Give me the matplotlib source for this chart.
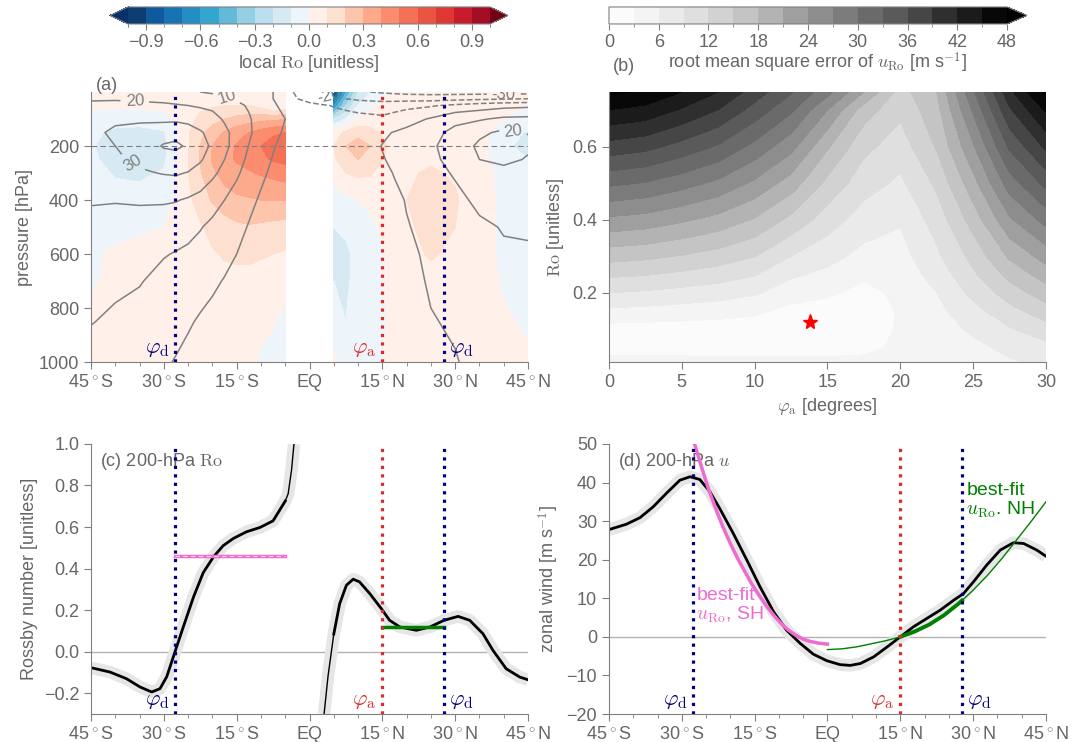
import numpy as np
import matplotlib.pyplot as plt
from matplotlib.colors import ListedColormap
from matplotlib.ticker import MultipleLocator

plt.rcParams['font.family'] = ['Liberation Sans', 'DejaVu Sans']
plt.rcParams['mathtext.fontset'] = 'cm'
plt.rcParams['font.size'] = 13

gray_txt = '0.4'
gray_ax = '0.5'
navy = '#000080'
red = '#dc2a2a'
pink = '#ef6bd0'
green = '#008000'

# latitudes of the Hadley cell edges
phi_d_sh = -27.7
phi_a = 15.0
phi_d_nh = 27.7

lat_labels = ['45$^\\circ$S', '30$^\\circ$S', '15$^\\circ$S', 'EQ',
              '15$^\\circ$N', '30$^\\circ$N', '45$^\\circ$N']

# ---- panel (a): local Ro and zonal wind, lat x pressure ----
p_levels = [0, 25, 50, 100, 150, 200, 250, 300, 400, 500, 600, 700, 850, 1000]

lat_ro_sh = [-45, -40, -35, -30, -27.5, -25, -22.5, -20, -17.5, -15, -12.5, -10, -7.5, -5]
ro_sh_cols = [
    [0.05, 0.04, 0.02, -0.05, -0.08, -0.09, -0.08, -0.06, -0.04, -0.02, -0.01, -0.01, 0.02, 0.03],
    [0.05, 0.04, 0.02, -0.06, -0.12, -0.15, -0.14, -0.11, -0.06, -0.02, 0.01, 0.02, 0.03, 0.03],
    [0.05, 0.04, 0.02, -0.06, -0.13, -0.16, -0.15, -0.12, -0.06, -0.01, 0.02, 0.03, 0.03, 0.04],
    [0.05, 0.04, 0.03, -0.04, -0.11, -0.13, -0.12, -0.09, -0.04, 0.00, 0.02, 0.03, 0.03, 0.04],
    [0.05, 0.05, 0.04, 0.01, 0.00, -0.02, 0.00, 0.01, 0.01, 0.02, 0.02, 0.03, 0.03, 0.04],
    [0.05, 0.05, 0.06, 0.07, 0.09, 0.09, 0.10, 0.10, 0.08, 0.06, 0.04, 0.04, 0.04, 0.05],
    [0.05, 0.06, 0.08, 0.12, 0.17, 0.20, 0.21, 0.19, 0.14, 0.09, 0.06, 0.05, 0.05, 0.05],
    [0.05, 0.07, 0.09, 0.16, 0.25, 0.30, 0.31, 0.28, 0.21, 0.13, 0.09, 0.06, 0.05, 0.05],
    [0.05, 0.07, 0.10, 0.20, 0.31, 0.36, 0.37, 0.34, 0.25, 0.16, 0.11, 0.07, 0.05, 0.05],
    [0.05, 0.07, 0.10, 0.23, 0.36, 0.41, 0.41, 0.37, 0.28, 0.18, 0.12, 0.07, 0.05, 0.04],
    [0.05, 0.07, 0.10, 0.25, 0.40, 0.45, 0.44, 0.39, 0.29, 0.19, 0.12, 0.07, 0.05, 0.03],
    [0.04, 0.06, 0.06, 0.27, 0.44, 0.50, 0.48, 0.41, 0.30, 0.18, 0.11, 0.06, 0.03, -0.02],
    [0.03, 0.04, -0.02, 0.28, 0.48, 0.55, 0.51, 0.43, 0.30, 0.17, 0.10, 0.05, 0.01, -0.04],
    [0.03, 0.04, 0.02, 0.29, 0.50, 0.58, 0.53, 0.45, 0.30, 0.16, 0.09, 0.04, -0.03, -0.05],
]

lat_ro_nh = [5, 7.5, 10, 12.5, 15, 17.5, 20, 25, 30, 35, 40, 45]
ro_nh_cols = [
    [-0.95, -0.80, -0.60, -0.20, 0.05, 0.10, 0.08, 0.03, -0.04, -0.10, -0.12, -0.10, -0.05, 0.02],
    [-0.50, -0.40, -0.30, -0.10, 0.12, 0.20, 0.17, 0.10, -0.02, -0.08, -0.12, -0.12, -0.10, -0.04],
    [-0.20, -0.15, -0.10, 0.02, 0.17, 0.24, 0.20, 0.12, 0.00, -0.05, -0.07, -0.06, -0.05, -0.03],
    [-0.10, -0.06, -0.02, 0.04, 0.14, 0.20, 0.16, 0.11, 0.02, -0.02, -0.04, -0.04, -0.03, -0.02],
    [-0.04, -0.01, 0.02, 0.05, 0.09, 0.12, 0.10, 0.07, 0.03, 0.01, -0.01, -0.01, -0.01, 0.00],
    [0.02, 0.03, 0.04, 0.05, 0.06, 0.07, 0.07, 0.06, 0.05, 0.04, 0.03, 0.03, 0.02, 0.02],
    [0.03, 0.04, 0.05, 0.06, 0.07, 0.07, 0.08, 0.09, 0.10, 0.09, 0.07, 0.05, 0.04, 0.03],
    [0.03, 0.04, 0.06, 0.07, 0.08, 0.08, 0.09, 0.11, 0.12, 0.12, 0.11, 0.07, 0.05, 0.04],
    [0.03, 0.04, 0.05, 0.06, 0.07, 0.07, 0.08, 0.09, 0.11, 0.10, 0.08, 0.06, 0.05, 0.04],
    [0.03, 0.04, 0.04, 0.05, 0.05, 0.04, 0.04, 0.04, 0.04, 0.04, 0.04, 0.04, 0.04, 0.04],
    [0.02, 0.02, 0.02, 0.00, -0.06, -0.08, -0.06, -0.03, -0.02, -0.02, -0.02, -0.01, 0.01, 0.02],
    [0.02, 0.01, 0.00, -0.03, -0.11, -0.13, -0.10, -0.05, -0.03, -0.03, -0.02, -0.02, -0.01, 0.01],
]

# colours of the 20 Ro bands
ro_colors = ['#0c3e73', '#0f5a9a', '#1873b4', '#238dc4', '#33a5cf', '#62bad8',
             '#95cfe3', '#badfed', '#d7eaf3', '#eef5fa', '#fff1ea', '#fde0cf',
             '#fdc5ac', '#fca98c', '#fb8c6e', '#f47155', '#eb5441', '#dd3834',
             '#c81c2c', '#a40e24']

lat_u = [-45, -40, -35, -30, -27.5, -25, -22.5, -20, -17.5, -15, -12.5, -10, -7.5, -5,
         -2.5, 0, 2.5, 5, 7.5, 10, 12.5, 15, 17.5, 20, 25, 30, 35, 40, 45]
u_cols = [
    [16, 19, 22, 26, 28, 27.8, 27, 25, 20.8, 17, 14.5, 12.5, 10.3, 7],
    [15, 19, 23, 28.5, 31.5, 30, 28.5, 26, 20.5, 16.5, 13.5, 11.5, 8.7, 5.5],
    [14, 18, 23, 28.5, 33.5, 34.7, 32, 28.8, 21, 16, 12.5, 10.5, 7, 4],
    [13, 17, 22, 28, 36, 40.8, 36, 30.5, 21, 15, 10.5, 7.5, 4, 1],
    [12, 16, 21, 28, 37.5, 41.4, 37, 31, 20.5, 14, 9.5, 6, 2.5, -0.5],
    [11, 15, 20, 27, 35, 38.9, 35, 29.5, 19, 12.5, 8.5, 5, 1, -2.5],
    [10, 14, 19, 25, 31, 34, 31, 26.5, 17, 10.5, 7, 3.5, -1, -4],
    [9, 13, 18, 23, 27, 28.3, 26, 22, 13.5, 8, 4.5, 1.5, -2.5, -5],
    [8, 11, 15, 19, 22, 22.3, 20, 17, 10, 5.5, 2.5, -0.5, -4, -5.5],
    [7, 9, 12, 15, 17, 16.2, 14, 11.5, 6, 2.5, 0, -2, -5, -6],
    [6, 7, 9, 11, 11.5, 9.8, 8, 6, 2, -0.5, -2.5, -4, -6, -6.5],
    [4, 4, 5, 6, 6, 4.6, 3, 1.5, -1, -3, -4.5, -5.5, -7, -7],
    [0, 0, 1.5, 2.5, 2, 0.6, -0.5, -1.5, -3.5, -5, -6, -6.5, -7.5, -7],
    [-6, -6, -3, 0, -1, -2.3, -3, -4, -5.5, -6.5, -7, -7, -7, -6],
    [-12, -10, -5, -2.5, -3.5, -4.8, -5.5, -6, -7, -7.5, -7.5, -7, -7, -5],
    [-18, -14, -7, -4, -5, -6.2, -7, -7, -7.5, -7.5, -7.5, -7, -6.5, -4],
    [-22, -16, -9, -5.5, -6, -7.1, -7.5, -7.5, -7.5, -7.5, -7, -6.5, -5.5, -3],
    [-25, -18, -10.5, -6.5, -6.5, -7.4, -7.5, -7.5, -7, -6.5, -6, -5, -3.5, -2],
    [-27, -20, -12, -6.5, -5.5, -6.6, -7, -7, -6.5, -6, -5.5, -4.5, -3, -2],
    [-29, -22, -13, -7.5, -4, -4.8, -5.5, -6, -6, -5.5, -5, -4.5, -3.5, -3],
    [-30, -23, -13.5, -8, -2.5, -2.4, -3.5, -4.5, -5, -5, -4.5, -4.5, -4, -4],
    [-31, -24, -14, -8.5, -1.5, 0.3, -0.5, -2.5, -4, -4.5, -4.5, -4.5, -4.5, -5],
    [-32, -24, -13.5, -6.5, 0.5, 2.4, 1.5, 0.5, -2, -3.5, -4, -4.5, -5, -5.5],
    [-33, -24, -12.5, -4, 2.5, 4.4, 3.5, 2, 0.5, -0.5, -2, -3, -4.5, -5.5],
    [-34, -24, -11, 1, 7, 8.6, 8, 6.5, 4, 2.5, 1.8, 1, -0.5, -3],
    [-34, -23, -8, 7.5, 12.5, 14.2, 13, 11, 7.5, 5, 3.5, 2.5, 1, -0.5],
    [-34, -22, -5, 9, 18, 21.8, 20, 17, 12, 8.5, 6.5, 5.5, 4, 2.5],
    [-34, -21, -3, 12, 22, 24.3, 21.5, 18, 12.5, 10.5, 9, 7.5, 6, 4],
    [-34, -20, -2, 12.5, 19.8, 20.9, 19.5, 17, 12.5, 10.5, 9.5, 8.5, 7, 5],
]
u_levels = [-30, -20, -10, 0, 10, 20, 30, 40]

# ---- panel (b): RMSE of u_Ro over (phi_a, Ro) ----
phi_a_grid = [0, 2.5, 5, 7.5, 10, 12.5, 15, 17.5, 20, 22.5, 25, 27.5, 30]
ro_grid = [0.01, 0.05, 0.1, 0.15, 0.2, 0.25, 0.3, 0.4, 0.5, 0.6, 0.7, 0.75]
rmse_cols = [
    [4.3, 1.6, 1.8, 5.4, 9.0, 12.6, 16.2, 23.4, 30.6, 37.8, 44.9, 48.6],
    [4.2, 1.6, 1.7, 5.1, 8.6, 12.2, 15.7, 22.8, 29.8, 36.9, 44.0, 47.5],
    [4.1, 1.5, 1.6, 4.7, 8.0, 11.4, 14.8, 21.5, 28.2, 34.9, 41.6, 45.0],
    [4.0, 1.5, 1.5, 4.3, 7.4, 10.5, 13.7, 20.0, 26.3, 32.6, 38.9, 42.0],
    [3.9, 1.5, 1.4, 3.6, 6.4, 9.2, 12.1, 17.7, 23.4, 29.1, 34.8, 37.6],
    [3.8, 1.6, 1.2, 2.2, 4.4, 6.5, 9.0, 14.2, 19.6, 25.0, 30.5, 33.3],
    [3.7, 1.8, 1.0, 1.7, 3.5, 5.3, 7.0, 10.5, 14.2, 18.4, 24.0, 28.0],
    [3.8, 2.2, 1.2, 1.4, 2.2, 3.5, 5.1, 7.6, 10.3, 12.8, 16.5, 21.0],
    [4.5, 3.6, 3.4, 3.3, 3.6, 4.2, 4.9, 6.3, 8.4, 10.5, 12.7, 13.8],
    [4.0, 4.2, 4.6, 5.2, 6.0, 7.2, 8.4, 10.3, 12.6, 15.3, 17.0, 18.0],
    [4.8, 5.3, 6.5, 8.0, 9.8, 11.5, 13.0, 16.3, 19.9, 23.6, 27.4, 29.5],
    [5.7, 6.7, 8.7, 11.0, 13.5, 16.0, 18.5, 23.5, 28.5, 33.5, 38.5, 41.2],
    [6.5, 8.0, 10.8, 13.7, 16.6, 19.4, 22.3, 28.1, 33.9, 39.6, 45.4, 49.0],
]
best_phi_a = 13.8
best_ro = 0.12

# ---- panel (c): 200-hPa Rossby number ----
lat_c_sh = [-45, -41.1, -37.7, -34.9, -32.5, -30.8, -29.4, -27.7, -26, -23.9, -21.9,
            -19.8, -17.8, -15.7, -13, -10.2, -7.5, -5.0, -4.4, -3.7, -3.2]
ro_c_sh = [-0.077, -0.098, -0.13, -0.17, -0.194, -0.178, -0.12, 0.0, 0.119, 0.263, 0.38,
           0.456, 0.51, 0.545, 0.577, 0.598, 0.63, 0.725, 0.76, 0.875, 1.0]
lat_c_nh = [3.0, 3.8, 5.0, 6.2, 7.6, 9.0, 10.3, 12.4, 14.8, 16.5, 18.6, 22.0, 24.8,
            27.7, 30.6, 33.0, 35.7, 37.8, 40.5, 43.3, 45]
ro_c_nh = [-0.3, -0.12, 0.085, 0.23, 0.32, 0.349, 0.336, 0.28, 0.207, 0.151, 0.119,
           0.103, 0.119, 0.151, 0.17, 0.151, 0.087, 0.006, -0.082, -0.122, -0.135]
ro_fit_sh = 0.46
ro_fit_nh = 0.12

# ---- panel (d): 200-hPa zonal wind ----
lat_d = [-45, -41.4, -38.6, -35.9, -33.1, -30.4, -28.3, -26.3, -24.2, -22.2, -19.4,
         -16.6, -13.9, -11.1, -8.4, -5.6, -2.9, -0.1, 2.6, 4.7, 6.8, 9.5, 12.3, 15,
         17.7, 20.5, 23.2, 26, 28, 30.1, 32.8, 35.6, 38.3, 40.4, 43.1, 45]
u_d = [27.8, 29.2, 30.9, 33.7, 37.3, 40.6, 41.5, 40.8, 37.6, 33.3, 26.8,
       19.9, 13.0, 6.5, 1.7, -1.7, -4.5, -6.2, -7.2, -7.4, -6.9, -5.2, -2.6, 0.0,
       2.6, 4.8, 6.9, 9.5, 11.2, 14.3, 18.6, 22.5, 24.4, 24.2, 22.5, 20.9]
lat_fit_sh = [-27.3, -26, -24.5, -23, -21.5, -20, -18.5, -17, -15.5, -14, -12.5,
              -11, -9.5, -8, -6.5, -5, -3.5, -2, 0]
u_fit_sh = [49.7, 44.3, 38.3, 33.2, 28.4, 24.2, 20.3, 16.9, 13.5, 10.6, 7.9,
            5.5, 3.4, 1.7, 0.4, -0.6, -1.2, -1.6, -1.9]
lat_fit_nh = [0, 3, 6, 9, 12, 15, 18, 21, 24, 27, 27.7, 30, 33, 36, 39, 42, 45]
u_fit_nh = [-3.3, -3.1, -2.6, -1.8, -1.0, 0.0, 1.4, 3.2, 5.6, 8.6, 9.4, 12.1, 16.0,
            20.4, 25.2, 30.0, 35.0]

# ======================================================================
fig = plt.figure(figsize=(10.71, 7.42), dpi=100)
ax_a = fig.add_axes([0.085, 0.512, 0.408, 0.364])
ax_b = fig.add_axes([0.5686, 0.512, 0.408, 0.364])
ax_c = fig.add_axes([0.085, 0.0377, 0.408, 0.364])
ax_d = fig.add_axes([0.5686, 0.0377, 0.408, 0.364])
cax_a = fig.add_axes([0.1027, 0.9677, 0.3716, 0.0229])
cax_b = fig.add_axes([0.5686, 0.9677, 0.3903, 0.0229])


def style(ax):
    for s in ['top', 'right']:
        ax.spines[s].set_visible(False)
    for s in ['left', 'bottom']:
        ax.spines[s].set_color(gray_ax)
    ax.tick_params(which='both', direction='out', color=gray_ax, labelcolor=gray_txt,
                   labelsize=13)
    ax.tick_params(which='major', length=5)
    ax.tick_params(which='minor', length=3)


def lat_axis(ax):
    ax.set_xlim(-45, 45)
    ax.set_xticks([-45, -30, -15, 0, 15, 30, 45])
    ax.set_xticklabels(lat_labels)
    ax.xaxis.set_minor_locator(MultipleLocator(5))


def cell_edges(ax):
    ax.axvline(phi_d_sh, color=navy, ls=':', lw=2.3, zorder=5)
    ax.axvline(phi_a, color=red, ls=':', lw=2.3, zorder=5)
    ax.axvline(phi_d_nh, color=navy, ls=':', lw=2.3, zorder=5)
    tr = ax.get_xaxis_transform()
    ax.text(phi_d_sh - 1.0, 0.01, r'$\varphi_\mathrm{d}$', color=navy, fontsize=16,
            ha='right', va='bottom', transform=tr, zorder=6)
    ax.text(phi_a - 1.2, 0.01, r'$\varphi_\mathrm{a}$', color=red, fontsize=16,
            ha='right', va='bottom', transform=tr, zorder=6)
    ax.text(phi_d_nh + 1.0, 0.01, r'$\varphi_\mathrm{d}$', color=navy, fontsize=16,
            ha='left', va='bottom', transform=tr, zorder=6)


# ---- (a) ----
ro_cmap = ListedColormap(ro_colors)
ro_cmap.set_under('#08306b')
ro_cmap.set_over('#730016')
ro_levels = np.round(np.arange(-1.0, 1.01, 0.1), 2)
cf_a = ax_a.contourf(lat_ro_sh, p_levels, np.array(ro_sh_cols).T, levels=ro_levels,
                     cmap=ro_cmap, extend='both')
ax_a.contourf(lat_ro_nh, p_levels, np.array(ro_nh_cols).T, levels=ro_levels,
              cmap=ro_cmap, extend='both')
cs = ax_a.contour(lat_u, p_levels, np.array(u_cols).T, levels=u_levels,
                  colors='0.5', linewidths=1.1)
ax_a.clabel(cs, fmt='%d', fontsize=12, inline=True,
            manual=[(-36, 250), (-36, 35), (-17, 17), (42, 140), (40, 8), (4, 10)])
ax_a.axhline(200, color='0.5', lw=0.8, ls=(0, (5, 3)))
ax_a.set_ylim(1000, 0)
ax_a.set_yticks([200, 400, 600, 800, 1000])
ax_a.set_ylabel('pressure [hPa]')
lat_axis(ax_a)
style(ax_a)
cell_edges(ax_a)
ax_a.text(0.01, 1.025, '(a)', transform=ax_a.transAxes, ha='left', va='center',
          color=gray_txt, fontsize=13)

cb_a = fig.colorbar(cf_a, cax=cax_a, orientation='horizontal',
                    ticks=[-0.9, -0.6, -0.3, 0.0, 0.3, 0.6, 0.9])
cb_a.outline.set_edgecolor(gray_ax)
cb_a.ax.xaxis.set_minor_locator(MultipleLocator(0.1))
cb_a.ax.tick_params(which='both', direction='out', color=gray_ax, labelcolor=gray_txt,
                    labelsize=13)
cb_a.ax.tick_params(which='major', length=4)
cb_a.ax.tick_params(which='minor', length=2.5)
cax_a.text(0.5, -2.3, r'local $\mathrm{Ro}$ [unitless]', transform=cax_a.transAxes,
           ha='center', va='center', color=gray_txt, fontsize=13)

# ---- (b) ----
rmse_levels = np.arange(0, 49, 3)
cf_b = ax_b.contourf(phi_a_grid, ro_grid, np.array(rmse_cols).T, levels=rmse_levels,
                     cmap='Greys', extend='max')
ax_b.plot(best_phi_a, best_ro, marker='*', color='red', ms=11, ls='none', zorder=5)
ax_b.set_xlim(0, 30)
ax_b.set_ylim(0.01, 0.75)
ax_b.set_xticks([0, 5, 10, 15, 20, 25, 30])
ax_b.set_yticks([0.2, 0.4, 0.6])
ax_b.set_xlabel(r'$\varphi_\mathrm{a}$ [degrees]')
ax_b.set_ylabel(r'$\mathrm{Ro}$ [unitless]')
style(ax_b)
ax_b.text(0.01, 1.095, '(b)', transform=ax_b.transAxes, ha='left', va='center',
          color=gray_txt, fontsize=13)

cb_b = fig.colorbar(cf_b, cax=cax_b, orientation='horizontal',
                    ticks=np.arange(0, 49, 6))
cb_b.outline.set_edgecolor(gray_ax)
cb_b.ax.xaxis.set_minor_locator(MultipleLocator(3))
cb_b.ax.tick_params(which='both', direction='out', color=gray_ax, labelcolor=gray_txt,
                    labelsize=13)
cb_b.ax.tick_params(which='major', length=4)
cb_b.ax.tick_params(which='minor', length=2.5)
cax_b.text(0.525, -2.3, r'root mean square error of $u_\mathrm{Ro}$ [m s$^{-1}$]',
           transform=cax_b.transAxes, ha='center', va='center', color=gray_txt,
           fontsize=13)

# ---- (c) ----
lat_c_sh_a = np.array(lat_c_sh)
ro_c_sh_a = np.array(ro_c_sh)
lat_c_nh_a = np.array(lat_c_nh)
ro_c_nh_a = np.array(ro_c_nh)
ax_c.axhline(0, color='0.7', lw=1)
ax_c.plot(lat_c_sh_a, ro_c_sh_a, color='#e6e6e6', lw=9, solid_capstyle='butt')
ax_c.plot(lat_c_nh_a, ro_c_nh_a, color='#e6e6e6', lw=9, solid_capstyle='butt')
m = lat_c_sh_a <= -5
ax_c.plot(lat_c_sh_a[m], ro_c_sh_a[m], color='k', lw=2)
ax_c.plot(lat_c_sh_a[lat_c_sh_a >= -5], ro_c_sh_a[lat_c_sh_a >= -5], color='k', lw=1)
m = lat_c_nh_a >= 5
ax_c.plot(lat_c_nh_a[m], ro_c_nh_a[m], color='k', lw=2)
ax_c.plot(lat_c_nh_a[lat_c_nh_a <= 5], ro_c_nh_a[lat_c_nh_a <= 5], color='k', lw=1)
ax_c.plot([phi_d_sh, -5], [ro_fit_sh, ro_fit_sh], color=pink, lw=2.5, zorder=4)
ax_c.plot([phi_d_sh, -5], [ro_fit_sh, ro_fit_sh], color='white', lw=0.8,
          ls=(0, (4, 3)), alpha=0.7, zorder=4)
ax_c.plot([phi_a, phi_d_nh], [ro_fit_nh, ro_fit_nh], color=green, lw=2.5, zorder=4)
ax_c.set_ylim(-0.3, 1.0)
ax_c.set_yticks([-0.2, 0.0, 0.2, 0.4, 0.6, 0.8, 1.0])
ax_c.set_ylabel('Rossby number [unitless]')
lat_axis(ax_c)
style(ax_c)
cell_edges(ax_c)
ax_c.text(0.02, 0.975, r'(c) 200-hPa $\mathrm{Ro}$', transform=ax_c.transAxes,
          ha='left', va='top', color=gray_txt, fontsize=13)

# ---- (d) ----
lat_fit_nh_a = np.array(lat_fit_nh)
u_fit_nh_a = np.array(u_fit_nh)
ax_d.axhline(0, color='0.7', lw=1)
ax_d.plot(lat_d, u_d, color='#e6e6e6', lw=9, solid_capstyle='butt')
ax_d.plot(lat_d, u_d, color='k', lw=2)
ax_d.plot(lat_fit_sh, u_fit_sh, color=pink, lw=2.5, zorder=4)
ax_d.plot(lat_fit_nh_a, u_fit_nh_a, color=green, lw=1, zorder=4)
m = (lat_fit_nh_a >= phi_a) & (lat_fit_nh_a <= phi_d_nh)
ax_d.plot(lat_fit_nh_a[m], u_fit_nh_a[m], color=green, lw=2.8, zorder=4)
ax_d.text(-27.0, 8.0, 'best-fit\n$u_\\mathrm{Ro}$, SH', color=pink, fontsize=14,
          ha='left', va='center', linespacing=1.1)
ax_d.text(28.6, 35.2, 'best-fit\n$u_\\mathrm{Ro}$. NH', color=green, fontsize=14,
          ha='left', va='center', linespacing=1.1)
ax_d.set_ylim(-20, 50)
ax_d.set_yticks(np.arange(-20, 51, 10))
ax_d.set_ylabel('zonal wind [m s$^{-1}$]')
lat_axis(ax_d)
style(ax_d)
cell_edges(ax_d)
ax_d.text(0.02, 0.975, r'(d) 200-hPa $u$', transform=ax_d.transAxes,
          ha='left', va='top', color=gray_txt, fontsize=13)

for ax in [ax_a, ax_b, ax_c, ax_d]:
    ax.yaxis.label.set_color(gray_txt)
    ax.xaxis.label.set_color(gray_txt)

fig.savefig('out.png', dpi=100)
